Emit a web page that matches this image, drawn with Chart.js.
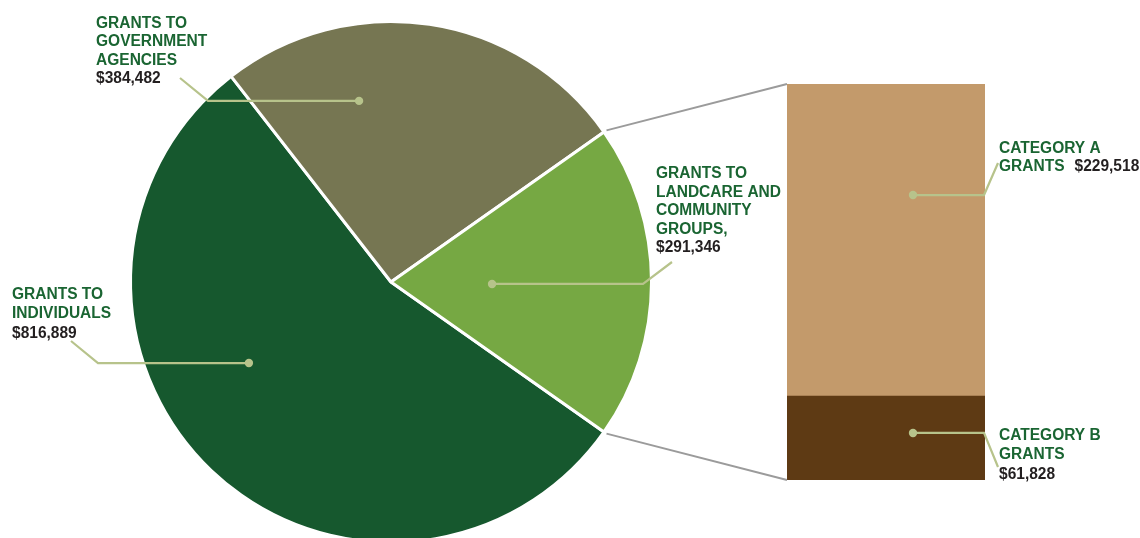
<!DOCTYPE html>
<html><head><meta charset="utf-8">
<script src="https://cdn.jsdelivr.net/npm/chart.js@4"></script>
<style>
html,body{margin:0;padding:0;background:#fff;overflow:hidden;width:1140px;height:538px;}
#wrap{position:relative;width:1140px;height:538px;overflow:hidden;background:#fff;}
#barBox{position:absolute;left:787px;top:84px;width:198px;height:396px;}
#pieBox{position:absolute;left:0;top:0;width:1140px;height:560px;}
</style></head><body>
<div id="wrap">
  <div id="barBox"><canvas id="bar" width="198" height="396"></canvas></div>
  <div id="pieBox"><canvas id="pie" width="1140" height="560"></canvas></div>
</div>
<script>
// ---- data ----
const pieCategories = ['Grants to individuals', 'Grants to government agencies', 'Grants to Landcare and community groups'];
const pieValues = [816889, 384482, 291346];
const pieLabelLines = [['GRANTS TO', 'INDIVIDUALS'], ['GRANTS TO', 'GOVERNMENT', 'AGENCIES'], ['GRANTS TO', 'LANDCARE AND', 'COMMUNITY', 'GROUPS,']];
const barCategories = ['Category B grants', 'Category A grants'];
const barValues = [61828, 229518];
const barLabelLines = [['CATEGORY B', 'GRANTS'], ['CATEGORY A', 'GRANTS']];

// ---- styles ----
const pieColors = ['#16582e', '#767652', '#76a843'];
const barColors = ['#5e3a14', '#c39a6b'];
const txtGreen = '#1a6532', txtDark = '#231f20', leadCol = '#b7c38b', connCol = '#9b9b9b';
const FONT = 'bold 16px "Liberation Sans", Arial, sans-serif';
const XSCALE = 0.97;

// annotation layout (label text position, leader elbow/end, dot anchor relative to element)
const pieAnnot = [
  {tx: 12, ty: 299, lh: 19.3, valueInline: false, dotAng: 150.3, dotRf: 0.628, elbowX: 98, endX: 71, endY: 341},
  {tx: 96, ty: 28, lh: 18.3, valueInline: false, dotAng: -100.0, dotRf: 0.706, elbowX: 208, endX: 180, endY: 78},
  {tx: 656, ty: 178, lh: 18.6, valueInline: false, dotAng: 1.1, dotRf: 0.388, elbowX: 643, endX: 672, endY: 262}
];
const barAnnot = [
  {tx: 999, ty: 440, lh: 19.3, valueInline: false, dotDx: 126, dotFy: 0.44, elbowX: 984, endX: 998, endY: 467},
  {tx: 999, ty: 153, lh: 17.5, valueInline: true, dotDx: 126, dotFy: 0.356, elbowX: 984, endX: 998, endY: 163}
];

const fmt = v => '$' + v.toLocaleString('en-US');

function drawTxt(ctx, s, x, y, color) {
  ctx.save();
  ctx.translate(x, y);
  ctx.scale(XSCALE, 1);
  ctx.fillStyle = color;
  ctx.font = FONT;
  ctx.textBaseline = 'alphabetic';
  ctx.textAlign = 'left';
  ctx.fillText(s, 0, 0);
  const w = ctx.measureText(s).width * XSCALE;
  ctx.restore();
  return w;
}
function drawLabel(ctx, lines, value, a) {
  let y = a.ty;
  lines.forEach((ln, i) => {
    const w = drawTxt(ctx, ln, a.tx, y, txtGreen);
    if (a.valueInline && i === lines.length - 1) {
      drawTxt(ctx, fmt(value), a.tx + w + 10, y, txtDark);
    }
    y += a.lh;
  });
  if (!a.valueInline) drawTxt(ctx, fmt(value), a.tx, y, txtDark);
}
function drawLeader(ctx, dx, dy, a) {
  ctx.save();
  ctx.strokeStyle = leadCol;
  ctx.lineWidth = 2.2;
  ctx.beginPath();
  ctx.moveTo(dx, dy);
  ctx.lineTo(a.elbowX, dy);
  ctx.lineTo(a.endX, a.endY);
  ctx.stroke();
  ctx.fillStyle = leadCol;
  ctx.beginPath();
  ctx.arc(dx, dy, 4.2, 0, Math.PI * 2);
  ctx.fill();
  ctx.restore();
}

// ---- bar chart (bar of pie) ----
const barChart = new Chart(document.getElementById('bar'), {
  type: 'bar',
  data: {
    labels: [''],
    datasets: barCategories.map((c, i) => ({
      label: c, data: [barValues[i]], backgroundColor: barColors[i], borderWidth: 0,
      barPercentage: 1, categoryPercentage: 1
    }))
  },
  options: {
    responsive: false, animation: false, devicePixelRatio: 1,
    layout: {padding: 0},
    plugins: {legend: {display: false}, tooltip: {enabled: false}},
    scales: {
      x: {display: false, stacked: true},
      y: {display: false, stacked: true, min: 0, max: barValues.reduce((a, b) => a + b, 0)}
    }
  }
});

// ---- pie chart ----
const total = pieValues.reduce((a, b) => a + b, 0);
const rotation = 90 + pieValues[2] / total * 180;

const annotPlugin = {
  id: 'annot',
  afterDraw(chart) {
    const ctx = chart.ctx;
    const arcs = chart.getDatasetMeta(0).data;
    const box = document.getElementById('barBox');
    const ox = box.offsetLeft, oy = box.offsetTop;
    const bars = [barChart.getDatasetMeta(0).data[0], barChart.getDatasetMeta(1).data[0]];

    // connectors from the Landcare slice to the bar
    const lc = arcs[2];
    const r = lc.outerRadius + 3;
    const topBar = bars[1], botBar = bars[0];
    const leftX = ox + topBar.x - topBar.width / 2;
    ctx.save();
    ctx.strokeStyle = connCol;
    ctx.lineWidth = 2;
    ctx.beginPath();
    ctx.moveTo(lc.x + r * Math.cos(lc.startAngle), lc.y + r * Math.sin(lc.startAngle));
    ctx.lineTo(leftX, oy + topBar.y);
    ctx.moveTo(lc.x + r * Math.cos(lc.endAngle), lc.y + r * Math.sin(lc.endAngle));
    ctx.lineTo(leftX, oy + botBar.base);
    ctx.stroke();
    ctx.restore();

    // pie labels
    arcs.forEach((arc, i) => {
      const a = pieAnnot[i];
      const ang = a.dotAng * Math.PI / 180;
      const rr = arc.outerRadius * a.dotRf;
      drawLeader(ctx, arc.x + rr * Math.cos(ang), arc.y + rr * Math.sin(ang), a);
      drawLabel(ctx, pieLabelLines[i], pieValues[i], a);
    });
    // bar labels
    bars.forEach((b, i) => {
      const a = barAnnot[i];
      const left = ox + b.x - b.width / 2;
      const top = oy + b.y;
      const h = b.base - b.y;
      drawLeader(ctx, left + a.dotDx, top + h * a.dotFy, a);
      drawLabel(ctx, barLabelLines[i], barValues[i], a);
    });
  }
};

new Chart(document.getElementById('pie'), {
  type: 'pie',
  data: {
    labels: pieCategories,
    datasets: [{data: pieValues, backgroundColor: pieColors, borderColor: '#ffffff', borderWidth: 3}]
  },
  options: {
    responsive: false, animation: false, devicePixelRatio: 1,
    rotation: rotation,
    layout: {padding: {left: 129, top: 20, right: 487, bottom: 16}},
    plugins: {legend: {display: false}, tooltip: {enabled: false}}
  },
  plugins: [annotPlugin]
});
</script>
</body></html>
